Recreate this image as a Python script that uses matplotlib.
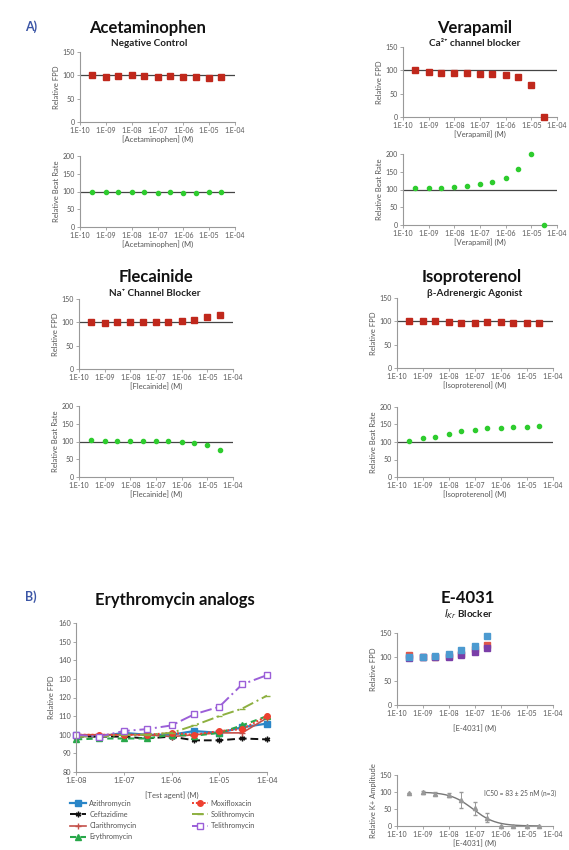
import numpy as np
import matplotlib
matplotlib.use("Agg")
import matplotlib.pyplot as plt
from matplotlib.ticker import FixedLocator, NullLocator

plt.rcParams["font.family"] = ["Lato", "DejaVu Sans"]

# ---- data -------------------------------------------------------------
conc = [3e-10, 1e-9, 3e-9, 1e-8, 3e-8, 1e-7, 3e-7, 1e-6, 3e-6, 1e-5, 3e-5]
decades = [1e-10, 1e-9, 1e-8, 1e-7, 1e-6, 1e-5, 1e-4]
decade_labels = ["1.E-10", "1.E-09", "1.E-08", "1.E-07", "1.E-06", "1.E-05", "1.E-04"]

acet_fpd = [100, 96, 98, 100, 99, 96, 99, 96, 96, 95, 97]
acet_br = [99, 99, 99, 100, 98, 97, 98, 97, 95, 99, 100]
vera_fpd = [101, 96, 95, 94, 95, 93, 92, 89, 86, 68, 1]
vera_br = [103, 104, 104, 106, 111, 115, 122, 131, 157, 199, 0]
flec_fpd = [101, 99, 101, 100, 100, 101, 101, 102, 104, 111, 115]
flec_br = [103, 101, 101, 102, 102, 101, 101, 100, 97, 90, 77]
iso_fpd = [100, 101, 100, 98, 96, 96, 99, 99, 96, 97, 97]
iso_br = [103, 110, 113, 124, 130, 135, 141, 141, 144, 144, 145]

e4031_conc = [3e-10, 1e-9, 3e-9, 1e-8, 3e-8, 1e-7, 3e-7]
e4031_red = [105, 101, 101, 102, 107, 116, 126]
e4031_purple = [98, 99, 99, 99, 104, 111, 119]
e4031_blue = [100, 101, 103, 107, 114, 123, 144]

ik_conc = [3e-10, 1e-9, 3e-9, 1e-8, 3e-8, 1e-7, 3e-7, 1e-6, 3e-6, 1e-5, 3e-5]
ik_amp = [98, 99, 95, 91, 77, 52, 25, 1, 0, 0, 0]
ik_err = [0, 5, 5, 6, 24, 20, 12, 0, 0, 0, 0]
ic50 = 83e-9
hill = 1.0

ery_conc = [1e-8, 3e-8, 1e-7, 3e-7, 1e-6, 3e-6, 1e-5, 3e-5, 1e-4]
ery_names = ["Azithromycin", "Ceftazidime", "Clarithromycin", "Erythromycin",
             "Moxifloxacin", "Solithromycin", "Telithromycin"]
ery_values = {
    "Azithromycin": [100, 99, 101, 100, 100, 102, 101, 104, 106],
    "Ceftazidime": [99, 99, 99, 98, 99, 97, 97, 98, 97.5],
    "Clarithromycin": [100, 100, 100, 100, 99, 100, 101, 101, 109],
    "Erythromycin": [97.5, 98, 98, 98, 100, 99.5, 101, 105, 110],
    "Moxifloxacin": [100, 100, 100, 100, 101, 100, 102, 103, 110],
    "Solithromycin": [99, 99, 100, 100, 101, 105, 110, 114, 121],
    "Telithromycin": [100, 99, 102, 103, 105, 111, 115, 127, 132],
}

# ---- layout helpers ---------------------------------------------------
W, H = 569, 850
fig = plt.figure(figsize=(W / 100, H / 100), dpi=100)

GRAY = "#555555"
SPINE = "#999999"
RED = "#C0281C"
GREEN = "#2ECC2E"


def box(x0, y0, x1, y1):
    return [x0 / W, 1 - y1 / H, (x1 - x0) / W, (y1 - y0) / H]


def style(ax, yticks, xlabel, ylabel, xlim=(1e-10, 1e-4), ticks=decades, labels=decade_labels):
    ax.set_xscale("log")
    ax.set_xlim(*xlim)
    ax.set_ylim(yticks[0], yticks[-1])
    ax.xaxis.set_major_locator(FixedLocator(ticks))
    ax.xaxis.set_minor_locator(NullLocator())
    ax.set_xticklabels(labels)
    ax.set_yticks(yticks)
    for s in ["top", "right"]:
        ax.spines[s].set_visible(False)
    for s in ["left", "bottom"]:
        ax.spines[s].set_color(SPINE)
        ax.spines[s].set_linewidth(0.8)
    ax.tick_params(labelsize=5, colors=SPINE, labelcolor=GRAY, length=2, width=0.6, pad=1.5)
    ax.set_xlabel(xlabel, fontsize=5.5, color=GRAY, labelpad=1)
    ax.set_ylabel(ylabel, fontsize=5.5, color=GRAY, labelpad=2)
    ax.patch.set_alpha(0)


def drug_pair(fpd_box, br_box, name, fpd, br):
    ax1 = fig.add_axes(box(*fpd_box))
    ax1.axhline(100, color="#444444", lw=0.9, zorder=1)
    ax1.plot(conc, fpd, "s", color=RED, ms=4, clip_on=False, zorder=3)
    style(ax1, [0, 50, 100, 150], f"[{name}] (M)", "Relative FPD")
    ax2 = fig.add_axes(box(*br_box))
    ax2.axhline(100, color="#444444", lw=0.9, zorder=1)
    ax2.plot(conc, br, "o", color=GREEN, ms=3, clip_on=False, zorder=3)
    style(ax2, [0, 50, 100, 150, 200], f"[{name}] (M)", "Relative Beat Rate")


def title(x, y, text, size=12):
    fig.text(x / W, 1 - y / H, text, ha="center", va="center", fontsize=size,
             fontweight="bold", color="#111111")


def subtitle(x, y, text):
    fig.text(x / W, 1 - y / H, text, ha="center", va="center", fontsize=7.2,
             fontweight="bold", color="#222222")


# ---- panel A ----------------------------------------------------------
fig.text(25 / W, 1 - 27 / H, "A)", fontsize=9, fontweight="bold", color="#3C56A6", va="center")
fig.text(25 / W, 1 - 597 / H, "B)", fontsize=9, fontweight="bold", color="#3C56A6", va="center")

title(148, 28, "Acetaminophen")
subtitle(149, 43, "Negative Control")
drug_pair((80, 52, 235, 122), (80, 156, 235, 227), "Acetaminophen", acet_fpd, acet_br)

title(475, 28, "Verapamil")
subtitle(475, 44, "Ca²⁺ channel blocker")
drug_pair((403, 47, 557, 117), (403, 154, 557, 225), "Verapamil", vera_fpd, vera_br)

title(156, 277, "Flecainide")
subtitle(155, 293, "Na⁺ Channel Blocker")
drug_pair((79, 299, 233, 369), (79, 406, 233, 477), "Flecainide", flec_fpd, flec_br)

title(472, 277, "Isoproterenol")
subtitle(475, 293, "β-Adrenergic Agonist")
drug_pair((397, 298, 553, 368), (397, 407, 553, 477), "Isoproterenol", iso_fpd, iso_br)

# ---- panel B: erythromycin analogs -----------------------------------
title(175, 600, "Erythromycin analogs")
ax = fig.add_axes(box(76, 623, 267, 772))
ery_styles = {
    "Azithromycin": dict(color="#2A86C8", ls="-", marker="s", ms=4, lw=1.6),
    "Ceftazidime": dict(color="#111111", ls=(0, (4, 2)), marker=(6, 2, 0), ms=4, lw=1.4),
    "Clarithromycin": dict(color="#C4504A", ls="-", marker="+", ms=4, lw=1.2),
    "Erythromycin": dict(color="#28A84A", ls=(0, (3, 2)), marker="^", ms=4, lw=1.5),
    "Moxifloxacin": dict(color="#EE4030", ls=(0, (1, 1)), marker="o", ms=4, lw=1.4),
    "Solithromycin": dict(color="#8DB040", ls=(0, (6, 2, 1, 2)), marker="_", ms=4, lw=1.4),
    "Telithromycin": dict(color="#9B5FD8", ls=(0, (6, 2, 1, 2)), marker="s", ms=5,
                          lw=1.4, mfc="white"),
}
for name in ery_names:
    ax.plot(ery_conc, ery_values[name], label=name, clip_on=False, **ery_styles[name])
style(ax, list(range(80, 161, 10)), "[Test agent] (M)", "Relative FPD",
      xlim=(1e-8, 1e-4), ticks=decades[2:], labels=decade_labels[2:])
ax.tick_params(labelsize=5.3)
ax.xaxis.labelpad = 5
leg = ax.legend(loc="upper left", bbox_to_anchor=(70 / W, 1 - 800 / H),
                bbox_transform=fig.transFigure, ncol=2, fontsize=5.3, frameon=False,
                handlelength=2.2, columnspacing=7.5, labelspacing=0.55, handletextpad=0.4,
                borderaxespad=0, borderpad=0)
for t in leg.get_texts():
    t.set_color(GRAY)

# ---- panel B: E-4031 --------------------------------------------------
title(468, 598, "E-4031")
subtitle(469, 614, r"$\mathit{I}_{\mathit{Kr}}$ Blocker")
ax = fig.add_axes(box(397, 633, 553, 705))
ax.plot(e4031_conc, e4031_red, "s", color="#E0574A", ms=4.5, clip_on=False)
ax.plot(e4031_conc, e4031_purple, "s", color="#7A3EA8", ms=4.5, clip_on=False)
ax.plot(e4031_conc, e4031_blue, "s", color="#4C9AD0", ms=4.5, clip_on=False)
style(ax, [0, 50, 100, 150], "[E-4031] (M)", "Relative FPD")
ax.xaxis.labelpad = 5

ax = fig.add_axes(box(397, 775, 553, 826))
fit_x = np.logspace(-9, np.log10(3e-5), 200)
fit_y = 100 / (1 + (fit_x / ic50) ** hill)
ax.plot(fit_x, fit_y, color="#777777", lw=1.0, zorder=2)
ax.errorbar(ik_conc, ik_amp, yerr=ik_err, fmt="^", color="#999999", ms=3,
            elinewidth=0.7, capsize=1.5, clip_on=False, zorder=3)
ax.text(2.2e-7, 97, "IC50 = 83 ± 25 nM (n=3)", fontsize=4.8, color=GRAY, va="center")
style(ax, [0, 50, 100, 150], "[E-4031] (M)", "Relative K+ Amplitude")

fig.savefig("out.png", dpi=100)
